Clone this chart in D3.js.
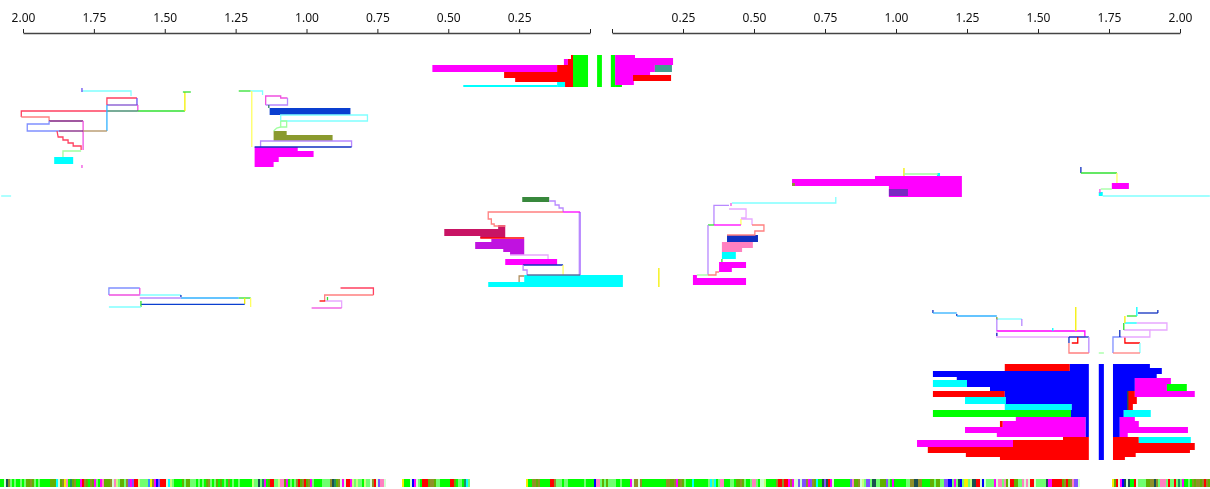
<!DOCTYPE html>
<html>
<head>
<meta charset="utf-8">
<script src="https://cdnjs.cloudflare.com/ajax/libs/d3/7.8.5/d3.min.js"></script>
<style>
  html, body { margin: 0; padding: 0; background: #fff; }
  svg { display: block; }
  .tick text { font-family: "Noto Sans", sans-serif; font-size: 12px; fill: #111; }
</style>
</head>
<body>
<div id="chart"></div>
<script>
const leftTicks = [0, 0.25, 0.5, 0.75, 1, 1.25, 1.5, 1.75, 2];
const rightTicks = [0, 0.25, 0.5, 0.75, 1, 1.25, 1.5, 1.75, 2];

// [near distance, far distance, first row, last row, colour key]
const leftBars = [
  // top left cluster
  [1.890, 1.823, 78.5, 82, 'c'],
  [1.130, 0.845, 54, 57.5, 'royal'],
  [1.116, 1.070, 65.5, 67.5, 'olive'],
  [1.116, 0.908, 67.5, 70.5, 'olive'],
  [1.183, 1.031, 73.5, 75.5, 'm'],
  [1.183, 0.975, 75.5, 78.5, 'm'],
  [1.183, 1.098, 78.5, 81, 'm'],
  [1.183, 1.116, 81, 83.5, 'm'],
  // top centre
  [0.060, 0.007, 27.5, 43.5, 'G'],
  [0.067, 0.060, 27.5, 43.5, 'r'],
  [0.092, 0.078, 29.5, 32.5, 'm'],
  [0.078, 0.060, 29.5, 32.5, 'r'],
  [0.556, 0.116, 32.5, 36, 'm'],
  [0.116, 0.060, 32.5, 36, 'r'],
  [0.303, 0.060, 36, 39, 'r'],
  [0.264, 0.060, 39, 41, 'r'],
  [0.116, 0.088, 41, 43.5, 'c'],
  [0.088, 0.060, 41, 43.5, 'r'],
  [0.447, 0.116, 42.5, 43.5, 'c'],
  [-0.025, -0.042, 27.5, 43.5, 'G'],
  // middle
  [0.239, 0.144, 98.5, 101, 'forest'],
  [0.324, 0.299, 112.5, 114.5, 'crimson'],
  [0.514, 0.299, 114.5, 118, 'crimson'],
  [0.387, 0.299, 118, 119, 'crimson'],
  [0.348, 0.232, 119.5, 121, 'purple'],
  [0.405, 0.232, 121, 124.5, 'purple'],
  [0.306, 0.232, 124.5, 126, 'purple'],
  [0.282, 0.232, 126, 127.5, 'purple'],
  [0.299, 0.116, 129.5, 132.5, 'm'],
  [0.232, -0.116, 137.5, 141, 'c'],
  [0.359, -0.116, 141, 143.5, 'c'],
  [0.040, 0.032, 106, 137.5, 'lilac']
];

const rightBars = [
  // top centre
  [-0.004, 0.011, 27.5, 43.5, 'G'],
  [0.011, 0.081, 27.5, 29, 'm'],
  [0.011, 0.215, 29, 32.5, 'm'],
  [0.011, 0.151, 32.5, 36, 'm'],
  [0.151, 0.211, 32.5, 36, 'teal'],
  [0.011, 0.134, 36, 37.5, 'm'],
  [0.011, 0.077, 37.5, 42.5, 'm'],
  [0.074, 0.208, 37.5, 40.5, 'r'],
  [0.011, 0.035, 42.5, 43.5, 'G'],
  // middle
  [0.926, 1.232, 88, 89.5, 'm'],
  [0.634, 1.232, 89.5, 93, 'm'],
  [0.975, 1.232, 93, 98.5, 'm'],
  [0.975, 1.042, 94.5, 98, 'indigo'],
  [0.634, 0.644, 91.5, 93, 'olive'],
  [1.144, 1.155, 86.5, 88, 'c'],
  [0.405, 0.514, 117.5, 121, 'navy'],
  [0.387, 0.496, 121, 124, 'pink'],
  [0.387, 0.458, 124, 126, 'pink'],
  [0.387, 0.436, 126, 129.5, 'c'],
  [0.377, 0.472, 131, 134, 'm'],
  [0.377, 0.422, 134, 136, 'm'],
  [0.285, 0.299, 137.5, 139, 'm'],
  [0.285, 0.472, 139, 142.5, 'm'],
  [1.760, 1.820, 91.5, 94.5, 'm'],
  [1.714, 1.728, 96, 98, 'c'],
  // bottom right, left half
  [1.383, 1.612, 182, 185.5, 'r'],
  [1.612, 1.679, 182, 185.5, 'B'],
  [1.130, 1.679, 185.5, 188.5, 'B'],
  [1.214, 1.679, 188.5, 190, 'B'],
  [1.130, 1.250, 190, 193.5, 'c'],
  [1.250, 1.679, 190, 193.5, 'B'],
  [1.331, 1.679, 193.5, 195.5, 'B'],
  [1.130, 1.383, 195.5, 198.5, 'r'],
  [1.383, 1.679, 195.5, 198.5, 'B'],
  [1.243, 1.387, 198.5, 202, 'c'],
  [1.387, 1.679, 198.5, 202, 'B'],
  [1.383, 1.619, 202, 205, 'c'],
  [1.619, 1.679, 202, 205, 'B'],
  [1.130, 1.616, 205, 208.5, 'G'],
  [1.616, 1.679, 205, 208.5, 'B'],
  [1.422, 1.668, 208.5, 210.5, 'm'],
  [1.366, 1.376, 210.5, 213.5, 'r'],
  [1.376, 1.668, 210.5, 213.5, 'm'],
  [1.243, 1.668, 213.5, 216.5, 'm'],
  [1.355, 1.668, 216.5, 218.5, 'm'],
  [1.668, 1.679, 208.5, 218.5, 'B'],
  [1.588, 1.679, 218.5, 220, 'r'],
  [1.074, 1.412, 220, 223.5, 'm'],
  [1.412, 1.679, 220, 223.5, 'r'],
  [1.112, 1.679, 223.5, 226.5, 'r'],
  [1.246, 1.679, 226.5, 228.5, 'r'],
  [1.366, 1.679, 228.5, 230, 'r'],
  [1.714, 1.732, 182, 230, 'B'],
  // bottom right, right half
  [1.764, 1.894, 182, 184, 'B'],
  [1.764, 1.936, 184, 187, 'B'],
  [1.764, 1.918, 187, 189, 'B'],
  [1.764, 1.841, 189, 195.5, 'B'],
  [1.841, 1.968, 189, 192.5, 'm'],
  [1.841, 1.954, 192.5, 195.5, 'm'],
  [1.954, 2.024, 192, 195.5, 'G'],
  [1.764, 1.816, 195.5, 205, 'B'],
  [1.816, 1.841, 195.5, 198.5, 'r'],
  [1.841, 2.052, 195.5, 198.5, 'm'],
  [1.816, 1.848, 198.5, 202, 'r'],
  [1.816, 1.834, 202, 205, 'r'],
  [1.764, 1.802, 205, 208.5, 'B'],
  [1.802, 1.897, 205, 208.5, 'c'],
  [1.764, 1.788, 208.5, 218.5, 'B'],
  [1.788, 1.841, 208.5, 210.5, 'm'],
  [1.788, 1.855, 210.5, 213.5, 'm'],
  [1.788, 2.028, 213.5, 216.5, 'm'],
  [1.788, 1.816, 216.5, 218.5, 'm'],
  [1.764, 1.855, 218.5, 221.5, 'r'],
  [1.855, 2.038, 218.5, 221.5, 'c'],
  [1.764, 2.052, 221.5, 225, 'r'],
  [1.764, 2.035, 225, 226.5, 'r'],
  [1.764, 1.844, 226.5, 228.5, 'r'],
  [1.764, 1.806, 228.5, 230, 'r']
];

// [colour key, [distance, row], [distance, row], ...]
const leftLinks = [
  ['pc', [1.792, 45.5], [1.619, 45.5], [1.619, 48]],
  ['vio', [1.792, 44], [1.792, 46]],
  ['red2', [1.704, 52.5], [1.704, 49], [1.598, 49]],
  ['vio', [1.598, 49], [1.598, 52.5]],
  ['pur2', [1.704, 52.5], [1.595, 52.5]],
  ['mag2', [1.595, 52.5], [1.595, 55.5]],
  ['G2', [1.595, 55.5], [1.429, 55.5]],
  ['dkg', [1.704, 55.5], [1.595, 55.5]],
  ['y', [1.429, 55.5], [1.429, 46]],
  ['G2', [1.436, 46], [1.408, 46]],
  ['red2', [1.704, 55.5], [2.006, 55.5], [2.006, 58.5]],
  ['pr', [2.006, 58.5], [1.908, 58.5], [1.908, 60.5]],
  ['plum', [1.908, 60.5], [1.788, 60.5]],
  ['mag2', [1.788, 60.5], [1.788, 75]],
  ['sky', [1.704, 52.5], [1.704, 65.5]],
  ['peri', [1.908, 60.5], [1.908, 62], [1.985, 62], [1.985, 65.5], [1.873, 65.5]],
  ['plum', [1.873, 65.5], [1.788, 65.5]],
  ['tan', [1.788, 65.5], [1.704, 65.5]],
  ['red2', [1.880, 65.5], [1.876, 68.5], [1.859, 68.5], [1.859, 70], [1.841, 70], [1.841, 71.5], [1.823, 71.5], [1.823, 73], [1.795, 73], [1.795, 75]],
  ['pg', [1.795, 75.5], [1.859, 75.5], [1.859, 78.5]],
  ['mag2', [1.792, 82.5], [1.792, 84]],

  ['G2', [1.239, 45.5], [1.197, 45.5]],
  ['pc', [1.197, 45.5], [1.155, 45.5], [1.155, 47.5]],
  ['mag2', [1.144, 52.5], [1.144, 48], [1.091, 48], [1.091, 49], [1.067, 49]],
  ['lilac', [1.067, 49], [1.067, 52.5], [1.144, 52.5]],
  ['dkg', [1.133, 52.5], [1.133, 54]],
  ['py', [1.193, 45.5], [1.193, 73.5]],
  ['pc', [1.091, 60.5], [1.091, 57.5], [0.785, 57.5], [0.785, 60.5], [1.091, 60.5]],
  ['pg', [1.091, 60.5], [1.070, 60.5], [1.070, 63.5], [1.091, 63.5], [1.091, 60.5]],
  ['pg', [1.091, 63.5], [1.105, 64], [1.116, 65.5]],
  ['lilac', [1.162, 73.5], [1.162, 70.5], [0.841, 70.5], [0.841, 73.5]],
  ['navy', [1.183, 73.5], [0.841, 73.5]],

  ['lilac', [0.144, 100.5], [0.123, 100.5], [0.123, 102.5], [0.109, 102.5], [0.109, 104], [0.095, 104], [0.095, 106]],
  ['pr', [0.095, 106], [0.359, 106], [0.359, 109.5], [0.348, 109.5], [0.348, 112], [0.338, 112], [0.338, 113], [0.299, 113]],
  ['m', [0.095, 106], [0.035, 106]],
  ['r', [0.387, 119], [0.232, 119]],
  ['pp', [0.282, 127.5], [0.148, 127.5], [0.148, 129.5]],
  ['navy', [0.236, 132.5], [0.095, 132.5]],
  ['py', [0.095, 132.5], [0.095, 137.5]],
  ['lilac', [0.236, 132.5], [0.236, 135], [0.222, 135], [0.222, 137.5]],
  ['slate', [0.222, 137.5], [0.035, 137.5]],
  ['tan', [0.250, 141], [0.250, 138], [0.232, 138]],

  ['pc', [2.077, 98], [2.042, 98]],

  ['peri', [1.697, 147.5], [1.697, 144], [1.588, 144]],
  ['mag2', [1.588, 144], [1.588, 147.5], [1.697, 147.5]],
  ['pc', [1.588, 147.5], [1.443, 147.5]],
  ['navy', [1.443, 147.5], [1.443, 148.5]],
  ['lilac', [1.588, 149], [1.443, 149]],
  ['sky', [1.443, 149], [1.239, 149]],
  ['G2', [1.239, 149], [1.197, 149]],
  ['py', [1.197, 149], [1.197, 153.5]],
  ['y', [1.218, 149], [1.218, 152]],
  ['royal', [1.218, 152.2], [1.584, 152.2]],
  ['G2', [1.584, 150.5], [1.584, 153.5]],
  ['pc', [1.584, 153.5], [1.697, 153.5]],
  ['red2', [0.880, 144], [0.764, 144], [0.764, 147.5]],
  ['pr', [0.764, 147.5], [0.936, 147.5], [0.936, 150.5]],
  ['G2', [0.926, 148.5], [0.926, 150.5]],
  ['r', [0.954, 150.5], [0.933, 150.5]],
  ['pp', [0.933, 150.5], [0.876, 150.5], [0.876, 154]],
  ['mag2', [0.876, 154], [0.982, 154]]
];

const rightLinks = [
  ['y', [0.165, 134], [0.165, 143.5]],
  ['y', [1.028, 84], [1.028, 88]],
  ['pg', [1.028, 87], [1.148, 87]],
  ['pc', [0.422, 101.5], [0.788, 101.5], [0.788, 98.5]],
  ['mag2', [0.419, 101.5], [0.419, 103]],
  ['lilac', [0.412, 102.7], [0.359, 102.7], [0.359, 112.5]],
  ['pp', [0.412, 104.5], [0.472, 104.5], [0.472, 109], [0.454, 109]],
  ['pp', [0.454, 109.5], [0.493, 109.5], [0.493, 112.5]],
  ['py', [0.454, 109.5], [0.454, 112.5]],
  ['m', [0.359, 112.5], [0.454, 112.5]],
  ['G2', [0.338, 112.5], [0.359, 112.5]],
  ['pr', [0.493, 112.5], [0.535, 112.5], [0.535, 115.5], [0.503, 115.5], [0.503, 117.5], [0.405, 117.5]],
  ['lilac', [0.338, 112.5], [0.338, 137.5]],
  ['G2', [0.387, 129.5], [0.387, 131]],
  ['pr', [0.377, 136], [0.366, 136], [0.366, 137.5], [0.338, 137.5]],
  ['pg', [0.338, 137.5], [0.299, 137.5]],

  ['navy', [1.651, 83.5], [1.651, 86.5]],
  ['G2', [1.651, 86.5], [1.778, 86.5]],
  ['py', [1.778, 86.5], [1.778, 91.5]],
  ['pg', [1.760, 94.5], [1.721, 94.5]],
  ['mag2', [1.718, 94.5], [1.718, 96.5]],
  ['pc', [1.728, 98], [2.105, 98]],

  ['navy', [1.130, 155], [1.130, 156.5]],
  ['sky', [1.130, 156.5], [1.214, 156.5]],
  ['navy', [1.214, 157], [1.214, 158]],
  ['sky', [1.214, 158], [1.355, 158]],
  ['pc', [1.355, 159.5], [1.443, 159.5]],
  ['lilac', [1.443, 159.5], [1.443, 163]],
  ['olive', [1.355, 158.5], [1.355, 160]],
  ['lilac', [1.355, 159.5], [1.355, 165.5]],
  ['m', [1.355, 165.5], [1.665, 165.5], [1.665, 168.5]],
  ['pp', [1.665, 168.5], [1.355, 168.5], [1.355, 165.5]],
  ['navy', [1.355, 166.5], [1.355, 168]],
  ['y', [1.633, 153.5], [1.633, 165.5]],
  ['c', [1.552, 164], [1.552, 165.5]],
  ['navy', [1.609, 168.5], [1.679, 168.5]],
  ['lilac', [1.679, 168.5], [1.679, 176.5]],
  ['pr', [1.679, 176.5], [1.609, 176.5], [1.609, 171.5]],
  ['r', [1.619, 171.5], [1.640, 171.5], [1.640, 168.5]],
  ['navy', [1.609, 168.5], [1.609, 171.5]],
  ['pg', [1.714, 176.5], [1.732, 176.5]],
  ['peri', [1.764, 176.5], [1.764, 168.5], [1.795, 168.5]],
  ['r', [1.806, 168.5], [1.806, 171.5], [1.859, 171.5]],
  ['pc', [1.859, 171.5], [1.859, 176.5]],
  ['pr', [1.859, 176.5], [1.764, 176.5]],
  ['navy', [1.788, 165], [1.788, 168.5]],
  ['pp', [1.795, 168.5], [1.894, 168.5], [1.894, 165], [1.802, 165]],
  ['G2', [1.802, 165], [1.802, 161.5]],
  ['c', [1.806, 161.5], [1.848, 161.5]],
  ['pp', [1.848, 161.5], [1.954, 161.5], [1.954, 165], [1.894, 165]],
  ['y', [1.806, 158], [1.806, 161.5]],
  ['G2', [1.813, 158], [1.848, 158]],
  ['c', [1.848, 153.5], [1.848, 158]],
  ['navy', [1.852, 156.5], [1.922, 156.5]],
  ['navy', [1.922, 155], [1.922, 156.5]],
  ['k', [1.816, 195.5], [1.816, 205]]
];

// colour strip along the bottom, one letter per cell
const stripFirstCell = [0, 201, 263, 430, 556];
const stripCells = [
  'GGwkbgGgGGgGgoobogGgGGGGGooocwobypGtobGGmrboGbomgGmpooobwplgoogbvmvrrlggggaybmBvrrrwclgGGGGogoogggGgGgGobgGgoGoGgGbGgGGgGGGGGGlggkgtmGorrgglpposGgGgbrobrobmgGGGGggggbktobwmwrrmlglggGlggwbrwvppw',
  'yGGGwBmwgGrrrobboggGGGGGrroGggGtcg',
  'yGGbbobGGGGGrrbgggGggGGGGGGGGgGGGGBppgogoggggGGgGGGGmwbbwbGGGGGGGGGGGGbboobmobogGGGcGGGGGGGgcgcGgppGGGggGoobogGGgppgGwwlGGGGGbrrbrrmbmwwvwvvbmvbocGGkvkrmwGGGGGGGGvpoobt',
  'wlgvvgkkggooovgGmGGGGGGggbbkkbbGGGGoogooggvvBBgmgkBgyyglkkrrwBwggggmwppgpowrrooggpwpwrrwgggggkmmrrrrrobrobpvvw',
  'yorwmBkwkGGrwggggoobbkbgpppgrggrgtgmGGgGbobbobrbo'
];

const barColors = {
  m: '#ff00ff', r: '#ff0000', G: '#00ff00', B: '#0000ff', c: '#00ffff', y: '#f4f000',
  g: '#70ff70', o: '#60b000', b: '#909028', p: '#ff80c0', k: '#1a5050', w: '#d0ffd0',
  v: '#8050ff', t: '#209060', l: '#c8ff80', a: '#3090ff',
  royal: '#0a3fd0', olive: '#8a9a2e', forest: '#38883c', crimson: '#c81464', purple: '#c012e0',
  teal: '#3f9f90', indigo: '#7a2ac0', navy: '#1030c0', pink: '#ff80c0', lilac: '#b888ff',
  pc: '#80ffff', pr: '#ff8080', pp: '#e8a8ff', pg: '#a0ffa0', py: '#ffff60', red2: '#ff4060',
  vio: '#6a50f0', pur2: '#8050d0', mag2: '#f050e0', G2: '#30e030', dkg: '#2f7f60',
  plum: '#802080', sky: '#30b0ff', peri: '#8090ff', tan: '#b09060', slate: '#6070a0'
};

let width = 1210, height = 489;

let xLeft = d3.scaleLinear().domain([0, 2]).range([590, 23]);
let xRight = d3.scaleLinear().domain([0, 2]).range([612, 1180]);
let y = d3.scaleLinear().domain([0, 244.5]).range([0, 489]);
let color = d3.scaleOrdinal().domain(Object.keys(barColors)).range(Object.values(barColors));

let svg = d3.select('#chart').append('svg')
  .attr('width', width)
  .attr('height', height)
  .style('filter', 'blur(0.3px)');

function drawAxis(scale, ticks) {
  let axis = svg.append('g')
    .attr('transform', 'translate(0,33)')
    .call(d3.axisTop(scale).tickValues(ticks).tickSize(4).tickSizeOuter(0).tickPadding(7)
      .tickFormat(d => d === 0 ? '' : d3.format('.2f')(d)));
  axis.select('.domain').style('stroke', '#444').style('stroke-width', 1.6);
  axis.selectAll('.tick line').style('stroke', '#222');
}
drawAxis(xLeft, leftTicks);
drawAxis(xRight, rightTicks);

function drawBars(bars, scale) {
  svg.append('g').selectAll('rect')
    .data(bars)
    .enter().append('rect')
    .attr('x', d => Math.min(scale(d[0]), scale(d[1])))
    .attr('width', d => Math.abs(scale(d[1]) - scale(d[0])))
    .attr('y', d => y(d[2]))
    .attr('height', d => y(d[3]) - y(d[2]))
    .style('fill', d => color(d[4]));
}
drawBars(leftBars, xLeft);
drawBars(rightBars, xRight);

function drawLinks(links, scale) {
  let line = d3.line().x(d => scale(d[0])).y(d => y(d[1]));
  svg.append('g').selectAll('path')
    .data(links)
    .enter().append('path')
    .attr('d', d => line(d.slice(1)))
    .style('fill', 'none')
    .style('stroke', d => color(d[0]))
    .style('stroke-width', 1.3);
}
drawLinks(leftLinks, xLeft);
drawLinks(rightLinks, xRight);

// bottom strip
let stripX = d3.scaleBand().domain(d3.range(605)).range([0, width]);
stripCells.forEach(function(cells, i) {
  svg.append('g').selectAll('rect')
    .data(cells.split(''))
    .enter().append('rect')
    .attr('x', (d, j) => stripX(stripFirstCell[i] + j))
    .attr('width', stripX.bandwidth())
    .attr('y', y(239.5))
    .attr('height', y(243.5) - y(239.5))
    .style('fill', d => color(d));
});
</script>
</body>
</html>
